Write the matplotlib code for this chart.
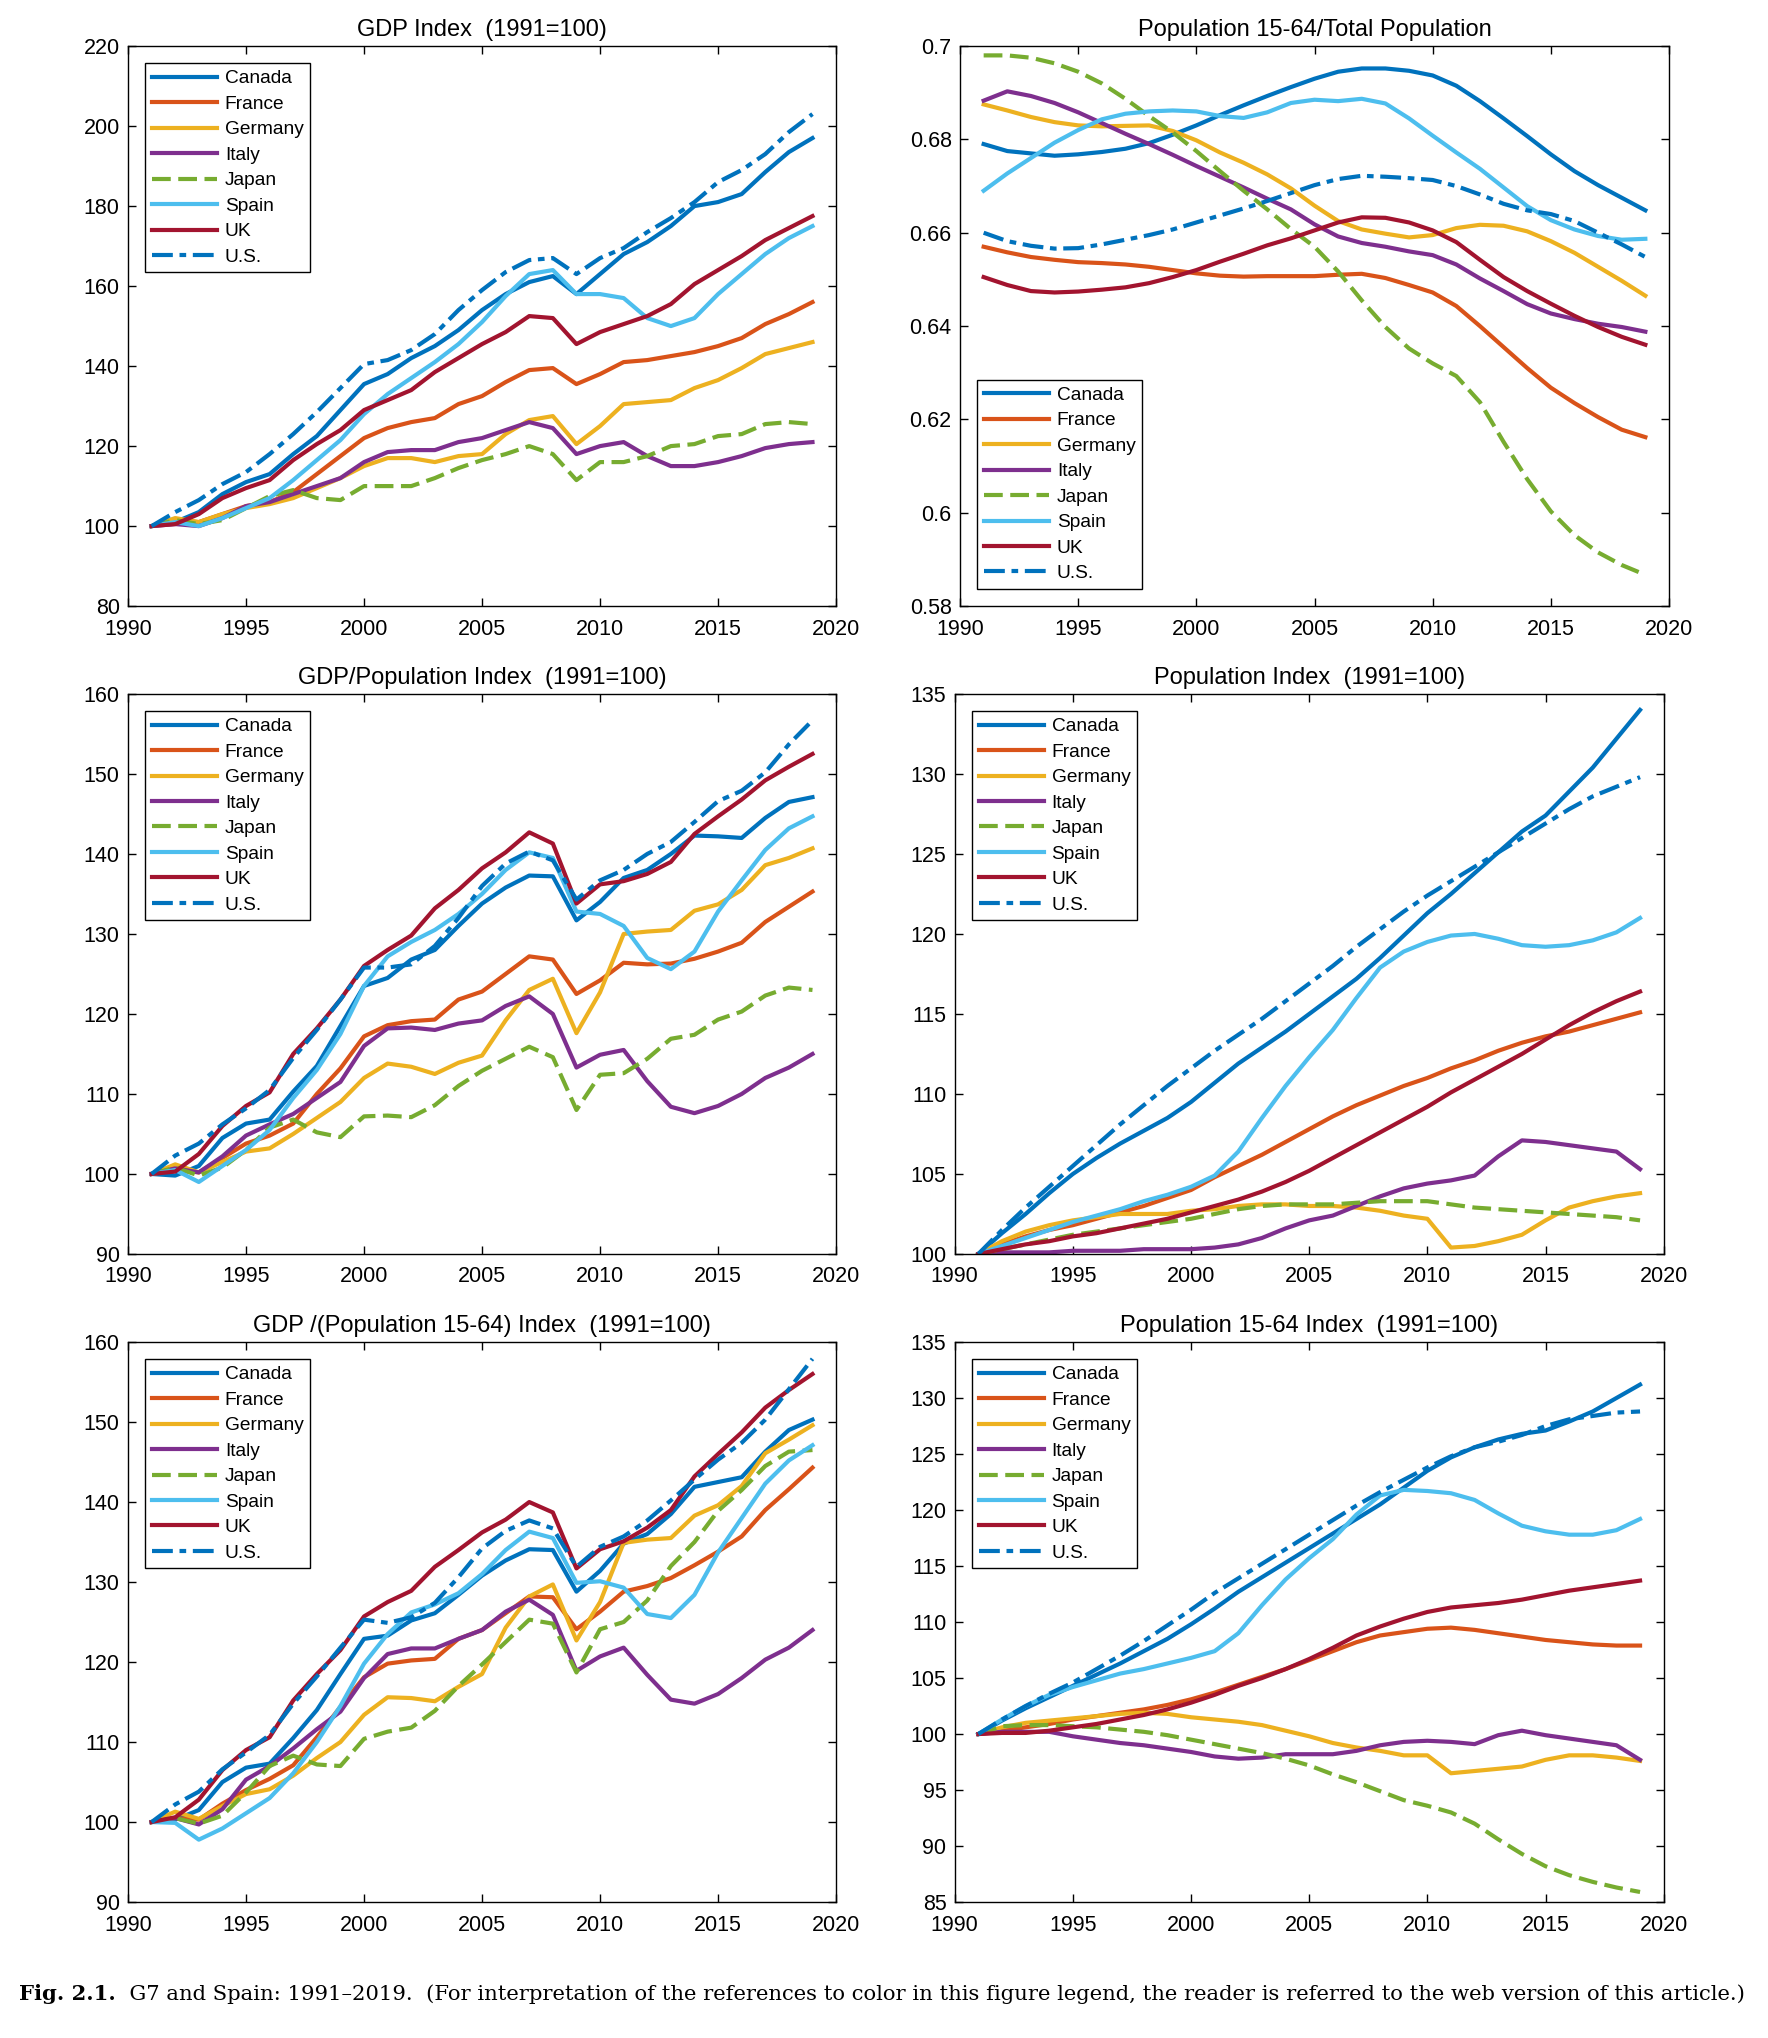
import matplotlib
matplotlib.use('Agg')
import matplotlib.pyplot as plt
import numpy as np

plt.rcParams['font.family'] = ['Liberation Sans', 'DejaVu Sans']

years = list(range(1991, 2020))
countries = ['Canada', 'France', 'Germany', 'Italy', 'Japan', 'Spain', 'UK', 'U.S.']

# GDP Index (1991=100)
gdp_canada = [100, 101, 103.5, 108, 111, 113, 118, 122.5, 129, 135.5, 138, 142, 145, 149, 154, 158, 161, 162.5, 158, 163,
              168, 171, 175, 180, 181, 183, 188.5, 193.5, 197]
gdp_france = [100, 101.5, 101, 103, 105, 106, 108.5, 113, 117.5, 122, 124.5, 126, 127, 130.5, 132.5, 136, 139, 139.5, 135.5, 138,
              141, 141.5, 142.5, 143.5, 145, 147, 150.5, 153, 156]
gdp_germany = [100, 102, 101, 103, 104.5, 105.5, 107, 109.5, 112, 115, 117, 117, 116, 117.5, 118, 123, 126.5, 127.5, 120.5, 125,
               130.5, 131, 131.5, 134.5, 136.5, 139.5, 143, 144.5, 146]
gdp_italy = [100, 100.5, 100, 102, 105, 106, 108, 110, 112, 116, 118.5, 119, 119, 121, 122, 124, 126, 124.5, 118, 120,
             121, 117.5, 115, 115, 116, 117.5, 119.5, 120.5, 121]
gdp_japan = [100, 101.5, 100.5, 101.5, 104.5, 107.5, 109, 107, 106.5, 110, 110, 110, 112, 114.5, 116.5, 118, 120, 118, 111.5, 116,
             116, 117.5, 120, 120.5, 122.5, 123, 125.5, 126, 125.5]
gdp_spain = [100, 101, 100, 102, 104.5, 107, 111.5, 116.5, 121.5, 128, 133, 137, 141, 145.5, 151, 157.5, 163, 164, 158, 158,
             157, 152, 150, 152, 158, 163, 168, 172, 175]
gdp_uk = [100, 100.5, 103, 107, 109.5, 111.5, 116.5, 120.5, 124, 129, 131.5, 134, 138.5, 142, 145.5, 148.5, 152.5, 152, 145.5, 148.5,
          150.5, 152.5, 155.5, 160.5, 164, 167.5, 171.5, 174.5, 177.5]
gdp_us = [100, 103.5, 106.5, 110.5, 113.5, 118, 123, 128.5, 134.5, 140.5, 141.5, 144, 148, 154, 159, 163.5, 166.5, 167, 163, 167,
          169.5, 173.5, 177, 181, 186, 189, 193, 198.5, 203]

# Population 15-64 / Total population
ratio_canada = [0.679, 0.6775, 0.677, 0.6765, 0.6768, 0.6773, 0.678, 0.6792, 0.681, 0.683, 0.6852, 0.6873, 0.6893, 0.6912, 0.693,
                0.6945, 0.6952, 0.6952, 0.6947, 0.6937, 0.6915, 0.6882, 0.6845, 0.6807, 0.6768, 0.6732, 0.6702, 0.6675, 0.6648]
ratio_france = [0.657, 0.6558, 0.6548, 0.6542, 0.6537, 0.6535, 0.6532, 0.6527, 0.652, 0.6513, 0.6508, 0.6506, 0.6507, 0.6507, 0.6507,
                0.651, 0.6512, 0.6503, 0.6488, 0.6472, 0.6443, 0.64, 0.6355, 0.631, 0.6268, 0.6235, 0.6205, 0.6178, 0.6162]
ratio_germany = [0.6875, 0.6862, 0.6848, 0.6837, 0.683, 0.6828, 0.6829, 0.683, 0.6818, 0.6798, 0.6772, 0.675, 0.6725, 0.6695, 0.6658,
                 0.6625, 0.6607, 0.6598, 0.659, 0.6595, 0.661, 0.6617, 0.6615, 0.6603, 0.6582, 0.6557, 0.6527, 0.6497, 0.6465]
ratio_italy = [0.6883, 0.6903, 0.6893, 0.6878, 0.6858, 0.6835, 0.6812, 0.679, 0.6767, 0.6743, 0.672, 0.6697, 0.6673, 0.665, 0.6618,
               0.6592, 0.6578, 0.657, 0.656, 0.6552, 0.6532, 0.6502, 0.6475, 0.6447, 0.6427, 0.6415, 0.6405, 0.6398, 0.6388]
ratio_japan = [0.698, 0.698, 0.6975, 0.6963, 0.6945, 0.692, 0.6887, 0.685, 0.6815, 0.6775, 0.6732, 0.669, 0.665, 0.6608, 0.657,
               0.6517, 0.6455, 0.6398, 0.6352, 0.632, 0.6293, 0.6237, 0.6152, 0.6072, 0.6003, 0.5952, 0.5915, 0.5888, 0.5867]
ratio_spain = [0.669, 0.6727, 0.676, 0.6793, 0.682, 0.6843, 0.6855, 0.686, 0.6862, 0.686, 0.685, 0.6846, 0.6858, 0.6878, 0.6885,
               0.6882, 0.6887, 0.6877, 0.6845, 0.6808, 0.6772, 0.6737, 0.6697, 0.6657, 0.6627, 0.6607, 0.6593, 0.6585, 0.6587]
ratio_uk = [0.6505, 0.6488, 0.6475, 0.6472, 0.6474, 0.6478, 0.6483, 0.6492, 0.6505, 0.652, 0.6538, 0.6555, 0.6573, 0.6588, 0.6605,
            0.6622, 0.6633, 0.6632, 0.6622, 0.6605, 0.658, 0.6542, 0.6505, 0.6475, 0.6448, 0.6422, 0.6398, 0.6377, 0.636]
ratio_us = [0.66, 0.6582, 0.6572, 0.6566, 0.6567, 0.6575, 0.6585, 0.6595, 0.6607, 0.6622, 0.6637, 0.6652, 0.6668, 0.6685, 0.6702,
            0.6715, 0.6722, 0.672, 0.6717, 0.6713, 0.67, 0.6682, 0.6662, 0.6648, 0.664, 0.6625, 0.66, 0.6575, 0.6548]

# GDP / Population Index (1991=100)
gdppc_canada = [100, 99.8, 101, 104.5, 106.3, 106.8, 110.3, 113.5, 118.5, 123.5, 124.5, 126.8, 128, 131, 133.8, 135.8, 137.3, 137.2,
                131.7, 134, 137, 138, 140, 142.3, 142.2, 142, 144.5, 146.5, 147.1]
gdppc_france = [100, 100.5, 100.2, 102, 103.8, 104.8, 106.3, 110, 113.2, 117.2, 118.6, 119.1, 119.3, 121.8, 122.8, 125, 127.2, 126.8,
                122.5, 124.2, 126.4, 126.2, 126.3, 126.9, 127.8, 128.9, 131.5, 133.4, 135.3]
gdppc_germany = [100, 101.2, 100.2, 101.5, 102.8, 103.2, 105, 107, 109, 112, 113.8, 113.4, 112.5, 113.9, 114.8, 119.2, 123, 124.4,
                 117.6, 122.7, 130, 130.3, 130.5, 132.9, 133.7, 135.5, 138.6, 139.5, 140.7]
gdppc_italy = [100, 100.7, 100.2, 102.2, 104.8, 106.2, 107.5, 109.5, 111.5, 116, 118.2, 118.3, 118, 118.8, 119.2, 121, 122.2, 120,
               113.3, 114.9, 115.5, 111.6, 108.4, 107.6, 108.5, 110, 112, 113.3, 115]
gdppc_japan = [100, 100.8, 99.8, 100.8, 103, 105.8, 106.8, 105.2, 104.6, 107.2, 107.3, 107.1, 108.6, 111, 112.9, 114.4, 115.9, 114.6,
               108, 112.4, 112.6, 114.4, 116.9, 117.4, 119.3, 120.3, 122.3, 123.3, 123]
gdppc_spain = [100, 100.5, 99, 101, 103, 105.5, 109.5, 113, 117.5, 123.5, 127.2, 129, 130.5, 132.5, 135, 138, 140.2, 139.5,
               132.8, 132.5, 131, 127, 125.6, 127.8, 132.8, 136.7, 140.5, 143.2, 144.7]
gdppc_uk = [100, 100.3, 102.5, 106, 108.5, 110.2, 115, 118.2, 121.8, 126, 128, 129.8, 133.2, 135.5, 138.2, 140.2, 142.7, 141.3,
            133.8, 136.2, 136.6, 137.5, 139, 142.5, 144.7, 146.8, 149.2, 150.9, 152.5]
gdppc_us = [100, 102.3, 103.8, 106.2, 108.2, 110.5, 114.5, 118, 121.8, 125.8, 125.8, 126.2, 128.5, 132, 136, 138.8, 140.3, 139.2,
            134.3, 136.7, 138, 140, 141.5, 144, 146.6, 147.9, 150.2, 153.7, 156.7]

# Population Index (1991=100)
pop_canada = [100, 101.3, 102.5, 103.8, 105, 106, 106.9, 107.7, 108.5, 109.5, 110.7, 111.9, 112.9, 113.9, 115, 116.1, 117.2, 118.5,
              119.9, 121.3, 122.5, 123.8, 125.1, 126.4, 127.4, 128.9, 130.4, 132.2, 134]
pop_france = [100, 100.6, 101.1, 101.5, 101.8, 102.2, 102.6, 103, 103.5, 104, 104.8, 105.5, 106.2, 107, 107.8, 108.6, 109.3, 109.9,
              110.5, 111, 111.6, 112.1, 112.7, 113.2, 113.6, 113.9, 114.3, 114.7, 115.1]
pop_germany = [100, 100.8, 101.4, 101.8, 102.1, 102.3, 102.5, 102.5, 102.5, 102.7, 102.8, 103, 103.1, 103.1, 103, 103, 102.9, 102.7,
               102.4, 102.2, 100.4, 100.5, 100.8, 101.2, 102.1, 102.9, 103.3, 103.6, 103.8]
pop_italy = [100, 100.1, 100.1, 100.1, 100.2, 100.2, 100.2, 100.3, 100.3, 100.3, 100.4, 100.6, 101, 101.6, 102.1, 102.4, 103, 103.6,
             104.1, 104.4, 104.6, 104.9, 106.1, 107.1, 107, 106.8, 106.6, 106.4, 105.3]
pop_japan = [100, 100.3, 100.6, 100.9, 101.2, 101.4, 101.6, 101.8, 102, 102.2, 102.5, 102.8, 103, 103.1, 103.1, 103.1, 103.2, 103.3,
             103.3, 103.3, 103.1, 102.9, 102.8, 102.7, 102.6, 102.5, 102.4, 102.3, 102.1]
pop_spain = [100, 100.5, 101, 101.5, 102, 102.4, 102.8, 103.3, 103.7, 104.2, 104.9, 106.4, 108.5, 110.5, 112.3, 114, 116, 117.9,
             118.9, 119.5, 119.9, 120, 119.7, 119.3, 119.2, 119.3, 119.6, 120.1, 121]
pop_uk = [100, 100.3, 100.6, 100.8, 101.1, 101.3, 101.6, 101.9, 102.2, 102.6, 103, 103.4, 103.9, 104.5, 105.2, 106, 106.8, 107.6,
          108.4, 109.2, 110.1, 110.9, 111.7, 112.5, 113.4, 114.3, 115.1, 115.8, 116.4]
pop_us = [100, 101.5, 102.9, 104.2, 105.5, 106.8, 108.1, 109.3, 110.5, 111.6, 112.7, 113.7, 114.7, 115.8, 116.9, 118, 119.2, 120.3,
          121.4, 122.4, 123.3, 124.2, 125.1, 126, 126.9, 127.8, 128.6, 129.2, 129.8]

# GDP / (Population 15-64) Index (1991=100)
gdpwa_canada = [100, 100.3, 101.5, 105, 106.8, 107.3, 110.5, 114, 118.5, 122.9, 123.3, 125.2, 126.1, 128.4, 130.8, 132.7, 134.1, 134,
                128.8, 131.4, 134.8, 136, 138.5, 141.9, 142.5, 143.1, 146.3, 149, 150.3]
gdpwa_france = [100, 100.5, 100.3, 102.3, 104, 105.4, 107.1, 110.6, 114.4, 118.1, 119.8, 120.2, 120.4, 122.9, 124, 126.1, 128.2, 128.1,
                124.1, 126.3, 128.8, 129.5, 130.5, 132.1, 133.8, 135.7, 139, 141.6, 144.3]
gdpwa_germany = [100, 101.3, 100.4, 102, 103.5, 104.1, 105.8, 108, 110, 113.4, 115.6, 115.5, 115.1, 116.9, 118.5, 124.3, 128.2, 129.7,
                 122.7, 127.5, 134.9, 135.3, 135.5, 138.3, 139.6, 142, 146.1, 147.8, 149.6]
gdpwa_italy = [100, 100.5, 99.7, 101.6, 105.3, 107, 109.2, 111.6, 113.8, 118, 121, 121.7, 121.7, 122.9, 124, 126.3, 127.8, 125.9,
               118.9, 120.7, 121.8, 118.4, 115.3, 114.8, 116, 118, 120.3, 121.8, 124]
gdpwa_japan = [100, 100.5, 99.8, 100.8, 103.7, 107, 108.3, 107.2, 107, 110.4, 111.3, 111.8, 113.9, 117, 119.7, 122.5, 125.3, 124.8,
               118.7, 124.1, 125, 127.7, 132, 135, 138.9, 141.5, 144.5, 146.3, 146.5]
gdpwa_spain = [100, 99.9, 97.8, 99.2, 101.1, 103, 106.1, 110, 114.5, 119.8, 123.5, 126.2, 127.2, 128.6, 131, 134, 136.3, 135.5,
               129.9, 130.1, 129.3, 126, 125.5, 128.4, 133.7, 138, 142.3, 145.2, 147.1]
gdpwa_uk = [100, 100.6, 102.8, 106.5, 109, 110.6, 115.2, 118.5, 121.5, 125.7, 127.5, 128.9, 131.9, 134, 136.2, 137.8, 140, 138.7,
            131.7, 134.1, 135.1, 136.8, 139, 143.2, 146, 148.7, 151.8, 154, 156]
gdpwa_us = [100, 102.2, 103.8, 106.6, 108.7, 110.9, 114.8, 118.2, 121.8, 125.3, 124.9, 125.6, 127.4, 130.6, 134.2, 136.4, 137.7, 136.7,
            131.9, 134.4, 135.7, 137.7, 140.2, 142.8, 145.3, 147.4, 150.3, 154.1, 157.9]

# Population 15-64 Index (1991=100)
wa_canada = [100, 101.2, 102.3, 103.3, 104.3, 105.3, 106.3, 107.4, 108.5, 109.8, 111.2, 112.7, 114, 115.3, 116.6, 117.9, 119.2, 120.5,
             122, 123.5, 124.7, 125.6, 126.3, 126.8, 127.1, 127.9, 128.8, 130, 131.2]
wa_france = [100, 100.3, 100.6, 100.9, 101.3, 101.6, 101.9, 102.2, 102.6, 103.1, 103.7, 104.4, 105.1, 105.8, 106.6, 107.4, 108.2, 108.8,
             109.1, 109.4, 109.5, 109.3, 109, 108.7, 108.4, 108.2, 108, 107.9, 107.9]
wa_germany = [100, 100.6, 101, 101.2, 101.4, 101.6, 101.8, 101.9, 101.8, 101.5, 101.3, 101.1, 100.8, 100.3, 99.8, 99.2, 98.8, 98.5,
              98.1, 98.1, 96.5, 96.7, 96.9, 97.1, 97.7, 98.1, 98.1, 97.9, 97.6]
wa_italy = [100, 100.2, 100.2, 100.2, 99.8, 99.5, 99.2, 99, 98.7, 98.4, 98, 97.8, 97.9, 98.2, 98.2, 98.2, 98.5, 99,
            99.3, 99.4, 99.3, 99.1, 99.9, 100.3, 99.9, 99.6, 99.3, 99, 97.7]
wa_japan = [100, 100.7, 100.8, 100.8, 100.7, 100.6, 100.4, 100.2, 99.9, 99.5, 99.1, 98.7, 98.3, 97.8, 97.2, 96.4, 95.7, 94.9,
            94.1, 93.6, 93, 92, 90.6, 89.3, 88.2, 87.4, 86.8, 86.3, 85.9]
wa_spain = [100, 101.3, 102.5, 103.5, 104.2, 104.8, 105.4, 105.8, 106.3, 106.8, 107.4, 109, 111.5, 113.8, 115.7, 117.4, 119.6, 121.3,
            121.8, 121.7, 121.5, 120.9, 119.7, 118.6, 118.1, 117.8, 117.8, 118.2, 119.2]
wa_uk = [100, 100.1, 100.1, 100.3, 100.6, 100.9, 101.3, 101.7, 102.2, 102.8, 103.5, 104.3, 105, 105.8, 106.7, 107.7, 108.8, 109.6,
         110.3, 110.9, 111.3, 111.5, 111.7, 112, 112.4, 112.8, 113.1, 113.4, 113.7]
wa_us = [100, 101.3, 102.5, 103.6, 104.6, 105.8, 107, 108.3, 109.7, 111.1, 112.6, 113.9, 115.2, 116.5, 117.8, 119.1, 120.4, 121.6,
         122.7, 123.8, 124.8, 125.6, 126.1, 126.7, 127.5, 128.1, 128.4, 128.7, 128.8]

colors = ['#0072BD', '#D95319', '#EDB120', '#7E2F8E', '#77AC30', '#4DBEEE', '#A2142F', '#0072BD']
styles = ['-', '-', '-', '-', (0, (4.5, 1.8)), '-', '-', (0, (5, 1.6, 1.6, 1.6))]

panels = [
    ('GDP Index  (1991=100)', [gdp_canada, gdp_france, gdp_germany, gdp_italy, gdp_japan, gdp_spain, gdp_uk, gdp_us],
     (80, 220), np.arange(80, 221, 20), 'upper left', [0.0724, 0.7026, 0.4005, 0.2748]),
    ('Population 15-64/Total Population', [ratio_canada, ratio_france, ratio_germany, ratio_italy, ratio_japan, ratio_spain, ratio_uk, ratio_us],
     (0.58, 0.70), np.linspace(0.58, 0.70, 7), 'lower left', [0.543, 0.7026, 0.401, 0.2748]),
    ('GDP/Population Index  (1991=100)', [gdppc_canada, gdppc_france, gdppc_germany, gdppc_italy, gdppc_japan, gdppc_spain, gdppc_uk, gdppc_us],
     (90, 160), np.arange(90, 161, 10), 'upper left', [0.0724, 0.3847, 0.4005, 0.2748]),
    ('Population Index  (1991=100)', [pop_canada, pop_france, pop_germany, pop_italy, pop_japan, pop_spain, pop_uk, pop_us],
     (100, 135), np.arange(100, 136, 5), 'upper left', [0.540, 0.3847, 0.401, 0.2748]),
    ('GDP /(Population 15-64) Index  (1991=100)', [gdpwa_canada, gdpwa_france, gdpwa_germany, gdpwa_italy, gdpwa_japan, gdpwa_spain, gdpwa_uk, gdpwa_us],
     (90, 160), np.arange(90, 161, 10), 'upper left', [0.0724, 0.0667, 0.4005, 0.2748]),
    ('Population 15-64 Index  (1991=100)', [wa_canada, wa_france, wa_germany, wa_italy, wa_japan, wa_spain, wa_uk, wa_us],
     (85, 135), np.arange(85, 136, 5), 'upper left', [0.540, 0.0667, 0.401, 0.2748]),
]

fig = plt.figure(figsize=(17.68, 20.38), dpi=100)

for title, series, ylim, yticks, loc, rect in panels:
    ax = fig.add_axes(rect)
    for name, vals, c, ls in zip(countries, series, colors, styles):
        ax.plot(years, vals, color=c, linestyle=ls, linewidth=3.0, label=name)
    ax.set_xlim(1990, 2020)
    ax.set_ylim(*ylim)
    ax.set_xticks(range(1990, 2021, 5))
    ax.set_yticks(yticks)
    ax.yaxis.set_major_formatter(plt.FuncFormatter(lambda v, p: f'{v:g}'))
    ax.tick_params(direction='in', length=6, width=1, top=True, right=True, labelsize=15.5)
    ax.tick_params(axis='x', pad=9)
    ax.tick_params(axis='y', pad=6)
    for s in ax.spines.values():
        s.set_linewidth(1.0)
    ax.set_title(title, fontsize=17, pad=7)
    leg = ax.legend(loc=loc, fontsize=13.8, frameon=True, fancybox=False, framealpha=1, edgecolor='black',
                    handlelength=3.4, handletextpad=0.4, labelspacing=0.42, borderpad=0.35, borderaxespad=0.9)
    leg.get_frame().set_linewidth(1.0)

caption = ('  G7 and Spain: 1991\u20132019.  (For interpretation of the references to color in this figure legend, '
           'the reader is referred to the web version of this article.)')
cap1 = fig.text(0.011, 0.0216, 'Fig. 2.1.', fontsize=15.2, fontweight='bold', family='DejaVu Serif', va='center')
plt.annotate(caption, xy=(1, 0), xycoords=cap1, va='bottom', ha='left', fontsize=15.2, family='DejaVu Serif',
             annotation_clip=False)

fig.savefig('out.png', dpi=100)
